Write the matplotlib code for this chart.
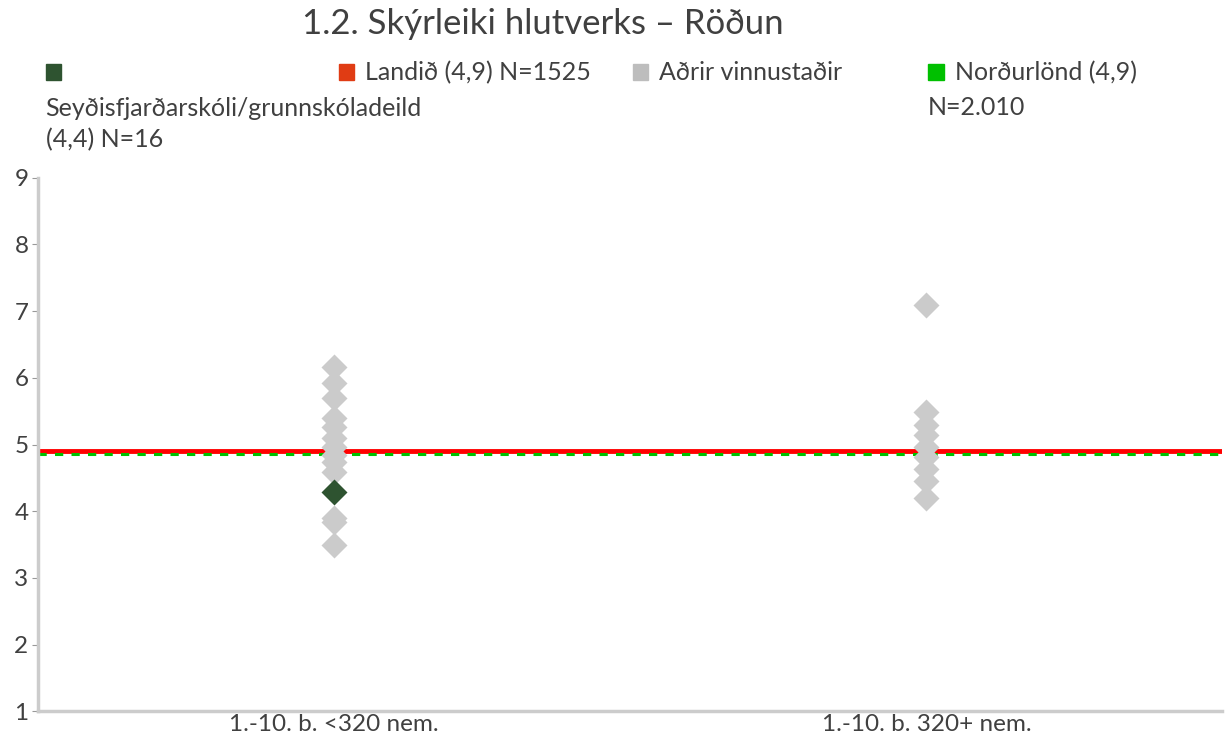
import matplotlib.pyplot as plt
from matplotlib.patches import Rectangle

plt.rcParams['font.family'] = ['Lato', 'DejaVu Sans']

# --- gögn ---
categories = ['1.-10. b. <320 nem.', '1.-10. b. 320+ nem.']
others_small = [6.16, 5.92, 5.70, 5.40, 5.27, 5.10, 4.97, 4.85, 4.74, 4.59, 3.90, 3.84, 3.49]
others_large = [7.09, 5.49, 5.29, 5.14, 4.97, 4.82, 4.64, 4.46, 4.20]
school_value = 4.29
school_cat = 0
landid_value = 4.9
nordurlond_value = 4.86

title = '1.2. Skýrleiki hlutverks – Röðun'
legend_labels = ['Seyðisfjarðarskóli/grunnskóladeild\n(4,4) N=16',
                 'Landið (4,9) N=1525',
                 'Aðrir vinnustaðir',
                 'Norðurlönd (4,9)\nN=2.010']
legend_colors = ['#2E5330', '#E03C14', '#BDBDBD', '#00C000']

fig = plt.figure(figsize=(12.31, 7.44), dpi=100)
ax = fig.add_axes([0.031, 0.044, 0.962, 0.717])

ax.axhline(landid_value, color='#FF0000', lw=3.5, zorder=2)
ax.axhline(nordurlond_value, color='#00C000', lw=2.2, ls=(0, (2.7, 2.7)), zorder=2)

ax.plot([0] * len(others_small), others_small, 'D', ms=13.5, color='#CBCBCB', mec='none', zorder=3)
ax.plot([1] * len(others_large), others_large, 'D', ms=13.5, color='#CBCBCB', mec='none', zorder=3)
ax.plot([school_cat], [school_value], 'D', ms=13.5, color=legend_colors[0], mec='none', zorder=4)

ax.set_xlim(-0.5, 1.5)
ax.set_ylim(1, 9)
ax.set_yticks(range(1, 10))
ax.set_xticks([0, 1])
ax.set_xticklabels(categories)
ax.tick_params(axis='y', length=4, color='#999999', labelsize=17.5, labelcolor='#404040', pad=3)
ax.tick_params(axis='x', length=0, labelsize=17.5, labelcolor='#404040', pad=2)
for s in ['top', 'right']:
    ax.spines[s].set_visible(False)
for s in ['left', 'bottom']:
    ax.spines[s].set_color('#CCCCCC')
    ax.spines[s].set_linewidth(2.5)

fig.text(0.441, 0.968, title, ha='center', va='center', fontsize=25, color='#404040')

# legend, handgert
leg_x = [0.037, 0.275, 0.514, 0.754]
fs = 18
for i, (lab, col) in enumerate(zip(legend_labels, legend_colors)):
    x0 = leg_x[i]
    fig.patches.append(Rectangle((x0, 0.892), 0.0125, 0.022, transform=fig.transFigure,
                                 color=col, figure=fig))
    if i == 0:
        fig.text(x0, 0.833, lab, ha='left', va='center', fontsize=fs, color='#404040',
                 linespacing=1.45)
    elif i == 3:
        fig.text(x0 + 0.0215, 0.903, lab.split('\n')[0], ha='left', va='center',
                 fontsize=fs, color='#404040')
        fig.text(x0, 0.856, lab.split('\n')[1], ha='left', va='center',
                 fontsize=fs, color='#404040')
    else:
        fig.text(x0 + 0.0215, 0.903, lab, ha='left', va='center', fontsize=fs, color='#404040')

fig.savefig('out.png', dpi=100)
